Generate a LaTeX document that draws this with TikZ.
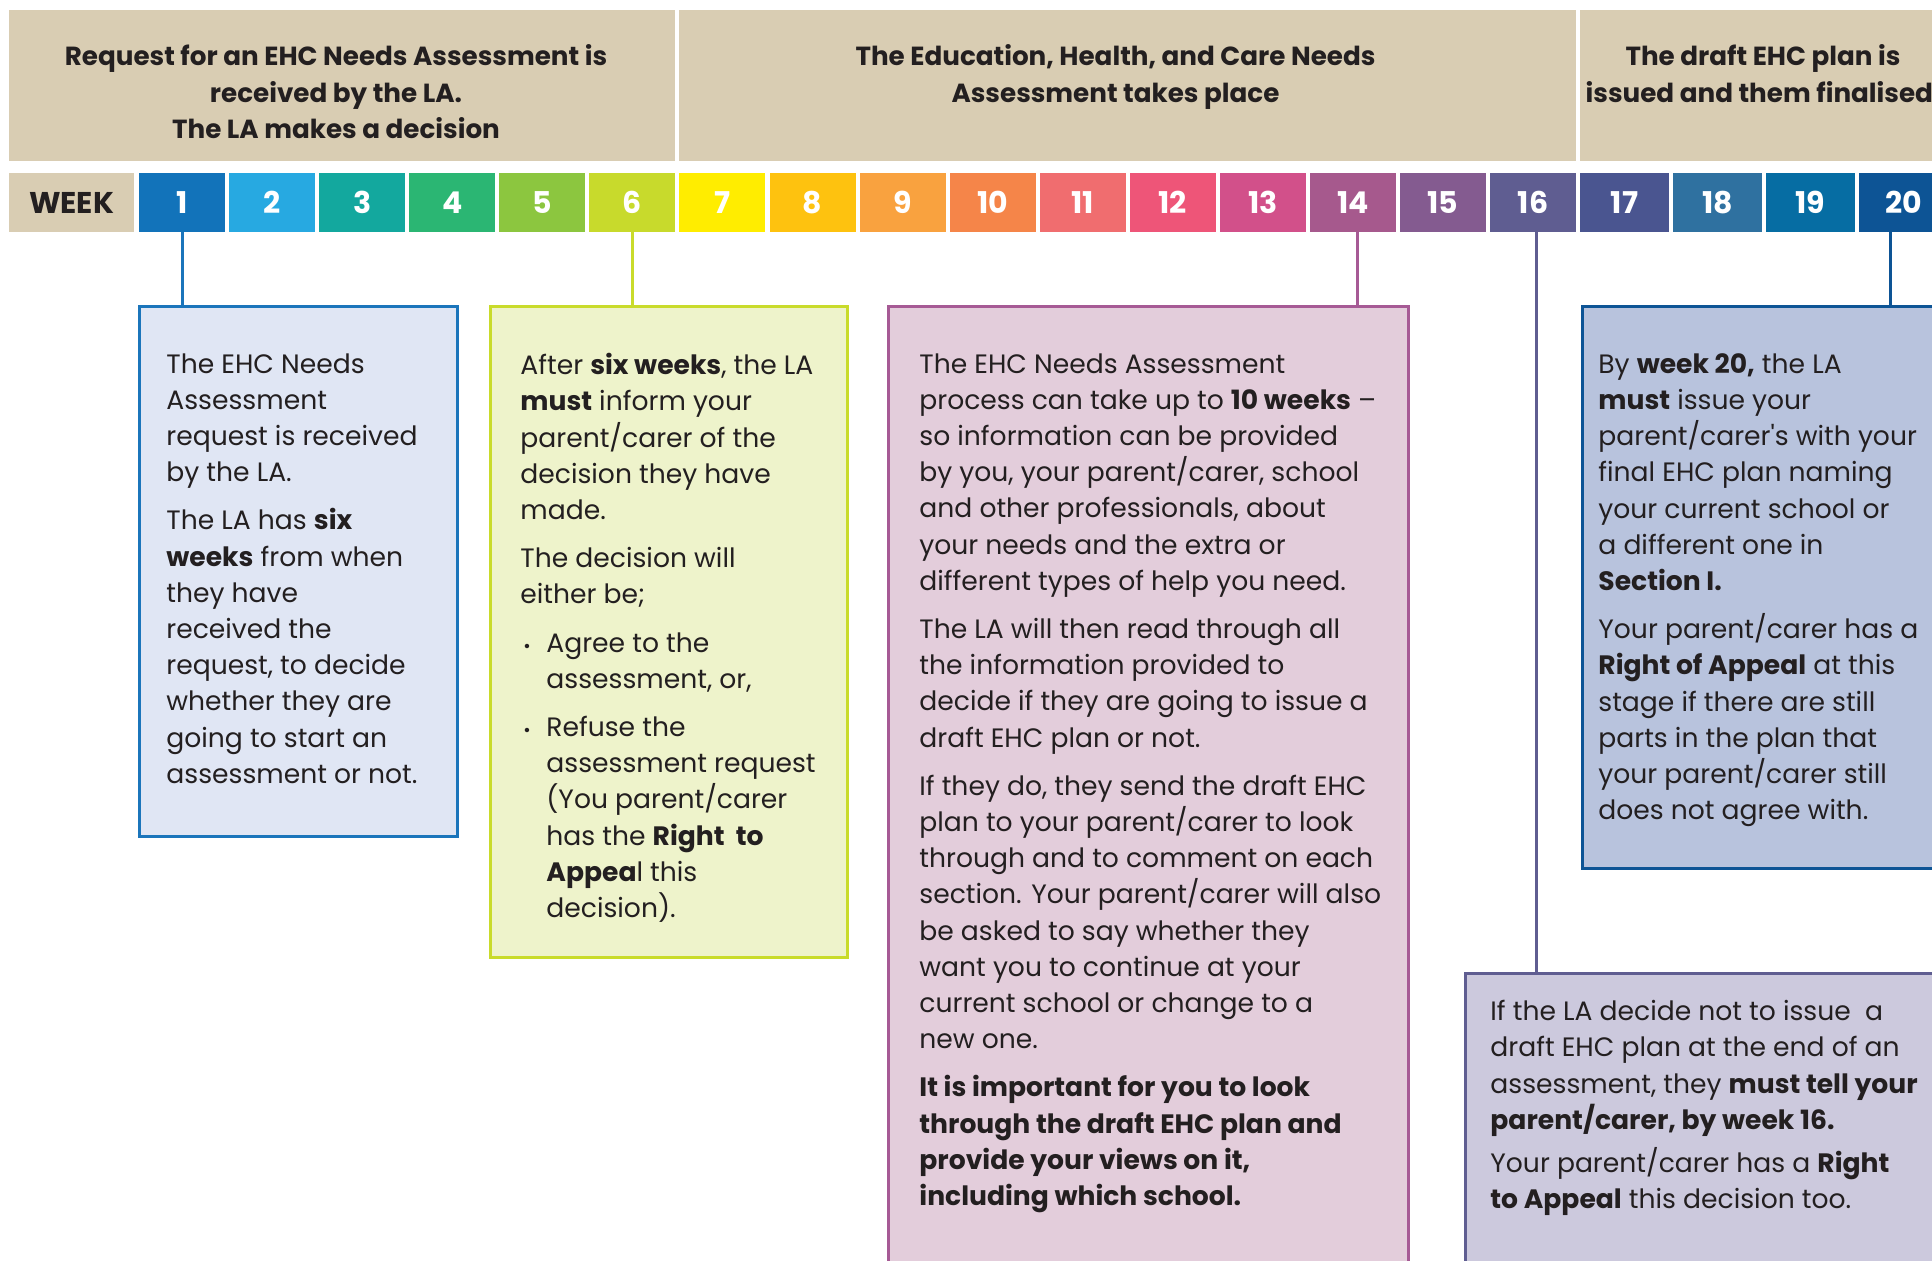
\documentclass[tikz,border=0pt]{standalone}
\usepackage{fontspec}
\setmainfont{Poppins}[Ligatures=TeXOff]
\usetikzlibrary{positioning}
\definecolor{tan}{HTML}{D9CDB3}
\definecolor{ink}{HTML}{231F20}
\definecolor{wkcol1}{HTML}{1273BA}
\definecolor{wkcol2}{HTML}{27A9E1}
\definecolor{wkcol3}{HTML}{13A89E}
\definecolor{wkcol4}{HTML}{2BB673}
\definecolor{wkcol5}{HTML}{8CC63F}
\definecolor{wkcol6}{HTML}{C8DA2C}
\definecolor{wkcol7}{HTML}{FFED00}
\definecolor{wkcol8}{HTML}{FEC20F}
\definecolor{wkcol9}{HTML}{F9A23F}
\definecolor{wkcol10}{HTML}{F58549}
\definecolor{wkcol11}{HTML}{F06D6F}
\definecolor{wkcol12}{HTML}{EE5578}
\definecolor{wkcol13}{HTML}{D2508A}
\definecolor{wkcol14}{HTML}{A6598D}
\definecolor{wkcol15}{HTML}{845B90}
\definecolor{wkcol16}{HTML}{5F5D91}
\definecolor{wkcol17}{HTML}{4A5590}
\definecolor{wkcol18}{HTML}{2F71A0}
\definecolor{wkcol19}{HTML}{066DA3}
\definecolor{wkcol20}{HTML}{0D5495}
\definecolor{blueline}{HTML}{1B75BB}
\definecolor{bluefill}{HTML}{E0E6F4}
\definecolor{limeline}{HTML}{C9DB2B}
\definecolor{limefill}{HTML}{EEF3CB}
\definecolor{pinkline}{HTML}{A65A95}
\definecolor{pinkfill}{HTML}{E3CDDB}
\definecolor{navyline}{HTML}{0D5495}
\definecolor{navyfill}{HTML}{B8C3DD}
\definecolor{greyline}{HTML}{5F5D91}
\definecolor{greyfill}{HTML}{CCC9DD}

\begin{document}
\begin{tikzpicture}[x=0.5pt,y=-0.5pt]
      \tikzstyle head=[fill=tan, minimum height=75.5pt, inner sep=0pt]
      \tikzstyle headtext=[inner sep=0pt, align=center, text=ink,
      font=\fontsize{13.1}{18.1}\selectfont\bfseries]
      \tikzstyle wk=[minimum width=43pt, minimum height=29.5pt, inner sep=0pt,
      text=white, font=\fontsize{15}{15}\selectfont\bfseries]
      \tikzstyle card=[draw, line width=1.5pt, anchor=north west, inner sep=0pt]
      \tikzstyle body=[inner sep=0pt, align=left, text=ink,
      font=\fontsize{13.3}{18.1}\selectfont]
      \tikzstyle link=[line width=1.5pt]
      \useasboundingbox (0,0) rectangle (1932,1260);
      \clip (0,0) rectangle (1932,1260);
      \fill [white] (0,0) rectangle (1932,1260);
      \node [head, minimum width=333pt] (h1) at (342,85.5) {};
      \node [head, minimum width=448.5pt] (h2) at (1127.5,85.5) {};
      \node [head, minimum width=183pt] (h3) at (1763,85.5) {};
      \node [headtext, below=17.5pt of h1.north, xshift=-3pt] (h1t)
      {Request for an EHC Needs Assessment is\\received by the LA.\\The LA makes a decision};
      \node [headtext, below=17.5pt of h2.north, xshift=-6pt] (h2t)
      {The Education, Health, and Care Needs\\Assessment takes place};
      \node [headtext, below=17.5pt of h3.north] (h3t)
      {The draft EHC plan is\\issued and them finalised.};
      \node [wk, fill=tan, minimum width=62.5pt, text=ink] (wk) at (71.5,202.5) {WEEK};
      \foreach \i in {1,...,16}
        \node [wk, fill=wkcol\i] (w\i) at ({182+(\i-1)*90.07},202.5) {\i};
      \foreach \i in {17,...,20}
        \node [wk, minimum width=44.5pt, fill=wkcol\i] (w\i) at ({1624.5+(\i-17)*93},202.5) {\i};
      \node [card, draw=blueline, fill=bluefill, minimum width=159pt, minimum height=265pt] (b1) at (138,305) {};
      \node [card, draw=limeline, fill=limefill, minimum width=178.5pt, minimum height=325.5pt] (b2) at (489,305) {};
      \node [card, draw=pinkline, fill=pinkfill, minimum width=260pt, minimum height=500pt] (b3) at (887,305) {};
      \node [card, draw=navyline, fill=navyfill, minimum width=189.5pt, minimum height=281pt] (b4) at (1581,305) {};
      \node [card, draw=greyline, fill=greyfill, minimum width=248pt, minimum height=200pt] (b5) at (1464,972) {};
      \draw [link, blueline] (w1.south) -- (w1.south |- b1.north);
      \draw [link, limeline] (w6.south) -- (w6.south |- b2.north);
      \draw [link, pinkline] ([xshift=2.5pt]w14.south) -- ([xshift=2.5pt]w14.south |- b3.north);
      \draw [link, greyline] ([xshift=1.5pt]w16.south) -- ([xshift=1.5pt]w16.south |- b5.north);
      \draw [link, navyline] ([xshift=-6.5pt]w20.south) -- ([xshift=-6.5pt]w20.south |- b4.north);
      \node [body, below right=24pt and 14pt of b1.north west] (t1)
      {The EHC Needs\\Assessment\\request is received\\by the LA.\\[6pt]
      The LA has \textbf{six}\\\textbf{weeks} from when\\they have\\received the\\request, to decide\\
      whether they are\\going to start an\\assessment or not.};
      \node [body, below right=24pt and 15.5pt of b2.north west] (t2)
      {After \textbf{six weeks}, the LA\\\textbf{must} inform your\\parent/carer of the\\decision they have\\made.\\[6pt]
      The decision will\\either be;\\[6pt]
      \makebox[13pt][l]{\hspace*{1.5pt}\small\textbullet}Agree to the\\\hspace*{13pt}assessment, or,\\[6pt]
      \makebox[13pt][l]{\hspace*{1.5pt}\small\textbullet}Refuse the\\\hspace*{13pt}assessment request\\
      \hspace*{13pt}(You parent/carer\\\hspace*{13pt}has the \textbf{Right\ \ to}\\
      \hspace*{13pt}\textbf{Appea}l this\\\hspace*{13pt}decision).};
      \node [body, below right=24pt and 16pt of b3.north west] (t3)
      {The EHC Needs Assessment\\process can take up to \textbf{10 weeks} –\\so information can be provided\\
      by you, your parent/carer, school\\and other professionals, about\\your needs and the extra or\\
      different types of help you need.\\[6pt]
      The LA will then read through all\\the information provided to\\decide if they are going to issue a\\
      draft EHC plan or not.\\[6pt]
      If they do, they send the draft EHC\\plan to your parent/carer to look\\through and to comment on each\\
      section. Your parent/carer will also\\be asked to say whether they\\want you to continue at your\\
      current school or change to a\\new one.\\[6pt]
      \textbf{It is important for you to look}\\\textbf{through the draft EHC plan and}\\
      \textbf{provide your views on it,}\\\textbf{including which school.}};
      \node [body, below right=24pt and 8.5pt of b4.north west] (t4)
      {By \textbf{week 20,} the LA\\\textbf{must} issue your\\parent/carer's with your\\final EHC plan naming\\
      your current school or\\a different one in\\\textbf{Section I.}\\[6pt]
      Your parent/carer has a\\\textbf{Right of Appeal} at this\\stage if there are still\\
      parts in the plan that\\your parent/carer still\\does not agree with.};
      \node [body, below right=14pt and 13pt of b5.north west] (t5)
      {If the LA decide not to issue\ \ a\\draft EHC plan at the end of an\\
      assessment, they \textbf{must tell your}\\\textbf{parent/carer, by week 16.}\\[3.5pt]
      Your parent/carer has a \textbf{Right}\\\textbf{to Appeal} this decision too.};
    \end{tikzpicture}
\end{document}
